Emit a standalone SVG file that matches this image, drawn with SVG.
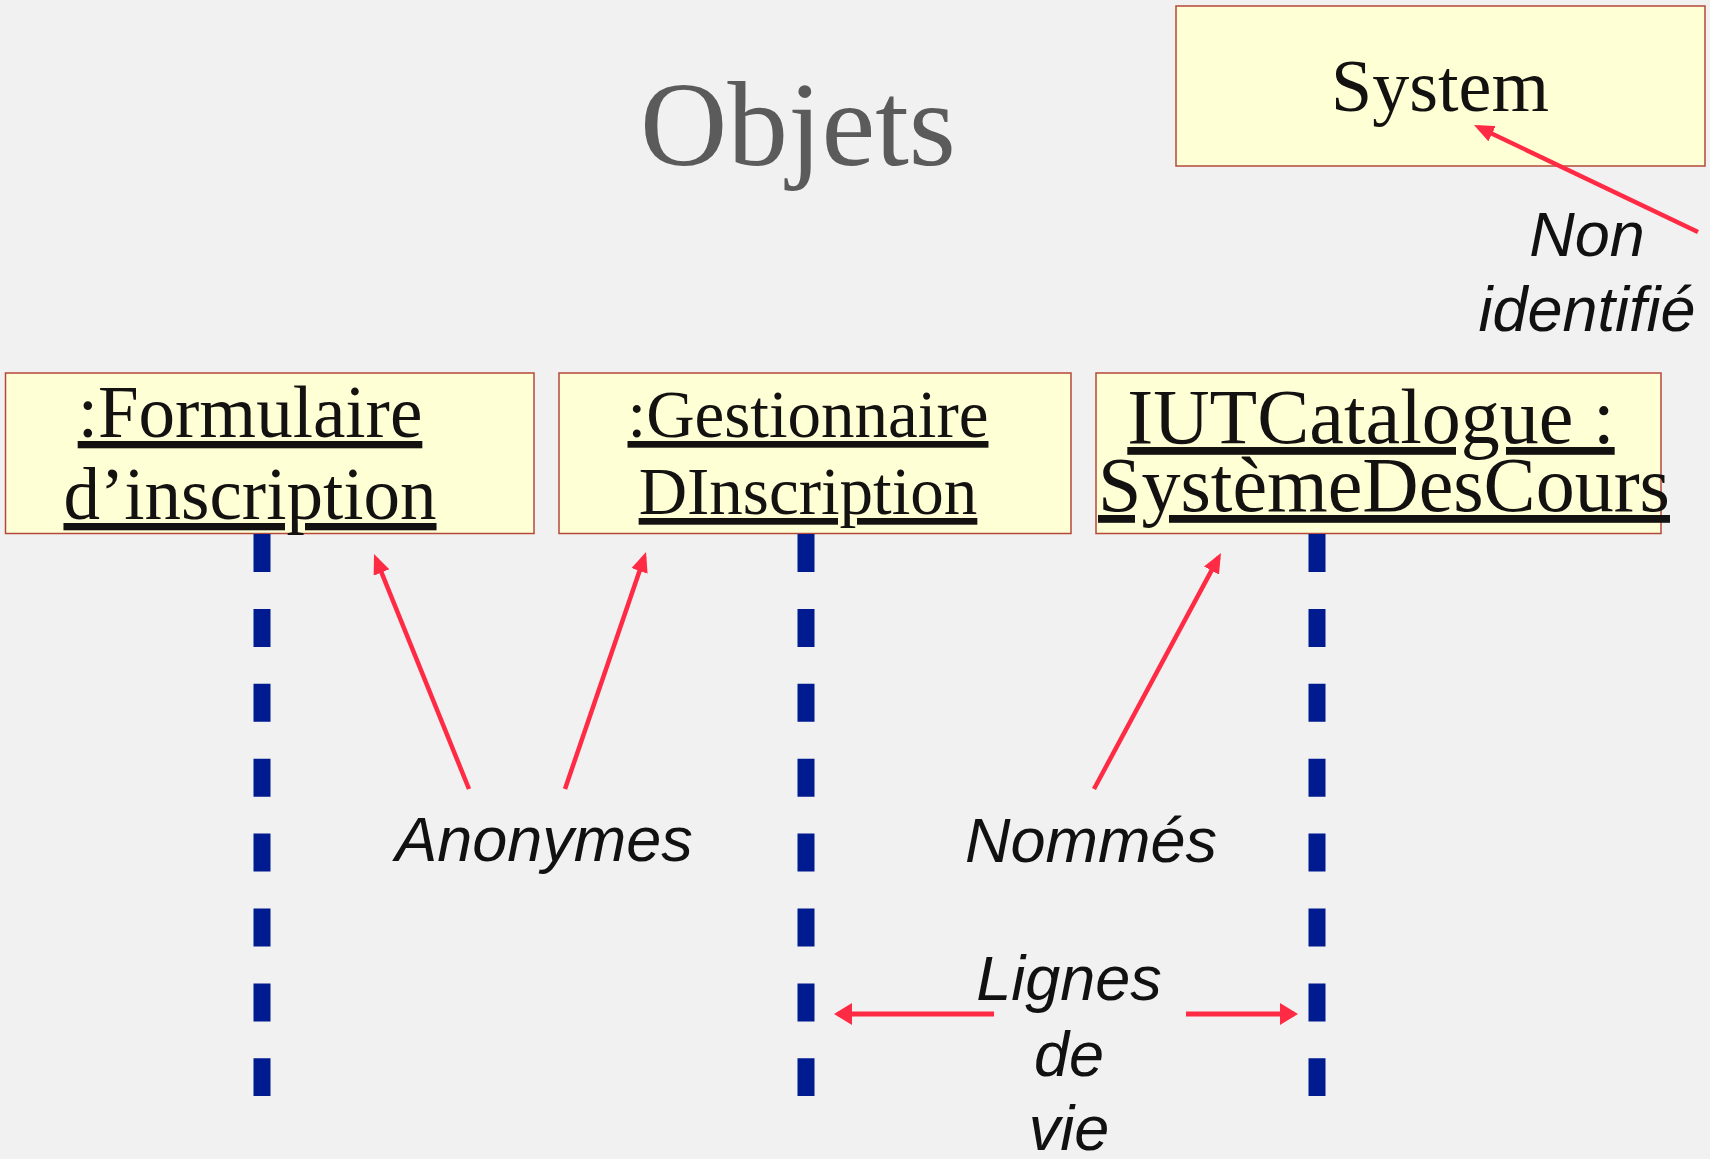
<svg xmlns="http://www.w3.org/2000/svg" width="1710" height="1159" viewBox="0 0 1710 1159">
<style>
.box{fill:#ffffd6;stroke:#b5483a;stroke-width:1.5}
.serif{font-family:"Liberation Serif","Times New Roman",serif;fill:#141210;text-anchor:middle}
.ul{text-decoration:underline}
.note{font-family:"Liberation Sans",Arial,sans-serif;font-style:italic;font-size:63px;fill:#111;text-anchor:middle}
.life{stroke:#001a8f;stroke-width:17;stroke-dasharray:38 36.9;fill:none}
.arr{stroke:#ff2b45;stroke-width:4.5;fill:none;marker-end:url(#ah)}
.arrh{stroke:#ff2b45;stroke-width:5;fill:none;marker-end:url(#ah2)}
</style>
<defs>
<marker id="ah" viewBox="0 0 20 17" refX="15" refY="8.5" markerWidth="20" markerHeight="17" markerUnits="userSpaceOnUse" orient="auto">
<path d="M0,0 L20,8.5 L0,17 Z" fill="#ff2b45"/>
</marker>
<marker id="ah2" viewBox="0 0 18 22" refX="14" refY="11" markerWidth="18" markerHeight="22" markerUnits="userSpaceOnUse" orient="auto">
<path d="M0,0 L18,11 L0,22 Z" fill="#ff2b45"/>
</marker>
</defs>
<rect width="1710" height="1159" fill="#f1f1f1"/>
<text x="798" y="165" class="serif" font-size="121" style="fill:#5b5b5b">Objets</text>
<g id="system">
<rect class="box" x="1176" y="6" width="529" height="160"/>
<text x="1440" y="111" class="serif" font-size="74">System</text>
</g>
<g id="formulaire">
<rect class="box" x="5.5" y="373" width="528.5" height="160.5"/>
<text class="serif ul" font-size="73"><tspan x="250" y="437">:Formulaire</tspan><tspan x="250" y="519">d’inscription</tspan></text>
</g>
<g id="gestionnaire">
<rect class="box" x="559" y="373" width="512" height="160.5"/>
<text class="serif ul" font-size="67"><tspan x="808" y="437">:Gestionnaire</tspan><tspan x="808" y="514">DInscription</tspan></text>
</g>
<g id="catalogue">
<rect class="box" x="1096" y="373" width="565" height="160.5"/>
<text class="serif ul" font-size="78"><tspan x="1371" y="443">IUTCatalogue :</tspan><tspan x="1384" y="511">SystèmeDesCours</tspan></text>
</g>
<g id="lifelines">
<line class="life" x1="262" y1="534" x2="262" y2="1096"/>
<line class="life" x1="806" y1="534" x2="806" y2="1096"/>
<line class="life" x1="1317" y1="534" x2="1317" y2="1096"/>
</g>
<g id="labels">
<text class="note"><tspan x="1587" y="256">Non</tspan><tspan x="1587" y="331">identifié</tspan></text>
<text class="note" x="544" y="861">Anonymes</text>
<text class="note" x="1091" y="862">Nommés</text>
<text class="note"><tspan x="1069" y="1000">Lignes</tspan><tspan x="1069" y="1076">de</tspan><tspan x="1069" y="1150">vie</tspan></text>
</g>
<g id="connectors">
<line class="arr" x1="1698" y1="232" x2="1478.5" y2="127.2"/>
<line class="arr" x1="469" y1="789" x2="375.9" y2="558.6"/>
<line class="arr" x1="565" y1="789" x2="644.4" y2="556.7"/>
<line class="arr" x1="1094" y1="789" x2="1218.6" y2="557.4"/>
<line class="arrh" x1="994" y1="1014" x2="838" y2="1014"/>
<line class="arrh" x1="1186" y1="1014" x2="1294" y2="1014"/>
</g>
</svg>
